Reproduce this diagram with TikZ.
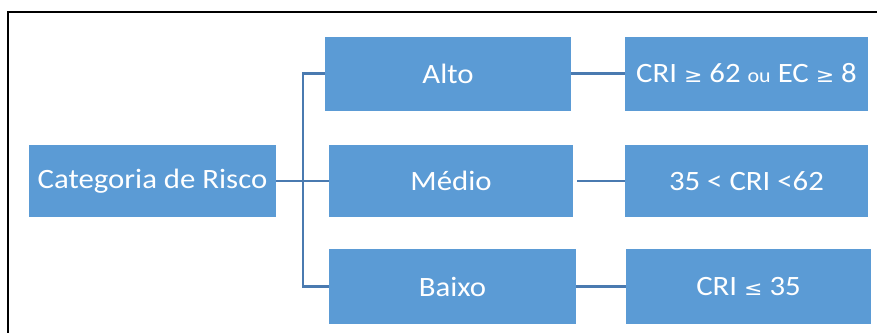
\documentclass[tikz,border=0pt]{standalone}
\usepackage{fontspec}
\usepackage{graphicx}
\setmainfont{Carlito}
\newfontfamily\symfont{DejaVu Sans}
\definecolor{boxblue}{HTML}{5B9BD5}
\definecolor{linkblue}{HTML}{4A7AB0}
% labels are set slightly wide
\newcommand{\widelabel}[1]{\scalebox{1.1}[1]{#1}}
\newcommand{\relsym}[1]{{\symfont\fontsize{20}{22}\selectfont #1}}
\tikzset{
  catbox/.style={fill=boxblue, draw=none, text=white, inner sep=0pt,
    font=\fontsize{28}{30}\selectfont},
  link/.style={draw=linkblue, line width=2.2pt},
}
\begin{document}
\begin{tikzpicture}[x=1pt,y=-1pt]
  \useasboundingbox (0,0) rectangle (877,332);
  % outer frame, running past the right and bottom edges
  \draw[line width=2pt] (8,12) rectangle (900,360);

  % boxes
  \node[catbox, minimum width=247pt, minimum height=72pt] (cat) at (152.5,181) {\widelabel{Categoria de Risco}};
  \node[catbox, minimum width=246pt, minimum height=74pt] (alto) at (448,73.5) {\widelabel{Alto}};
  \node[catbox, minimum width=244pt, minimum height=72pt] (medio) at (451,181) {\widelabel{Médio}};
  \node[catbox, minimum width=247pt, minimum height=75pt] (baixo) at (452.5,286.5) {\widelabel{Baixo}};
  \node[catbox, minimum width=243pt, minimum height=74pt] (ralto) at (746.5,73.5)
    {\widelabel{CRI \relsym{≥} 62 {\fontsize{20}{22}\selectfont ou} EC \relsym{≥} 8}};
  \node[catbox, minimum width=243pt, minimum height=72pt] (rmedio) at (746.5,181) {\widelabel{35 < CRI <62}};
  \node[catbox, minimum width=245pt, minimum height=75pt] (rbaixo) at (748.5,286.5)
    {\widelabel{CRI \relsym{≤} 35}};

  % tree connectors
  \coordinate (trunk) at (303,181);
  \draw[link] (cat.east) -- (medio.west);
  \draw[link] (alto.west) -| (trunk) |- (baixo.west);
  \draw[link] (alto.east) -- (ralto.west);
  \draw[link] ([xshift=4pt]medio.east) -- (rmedio.west);
  \draw[link] (baixo.east) -- (rbaixo.west);
\end{tikzpicture}
\end{document}
